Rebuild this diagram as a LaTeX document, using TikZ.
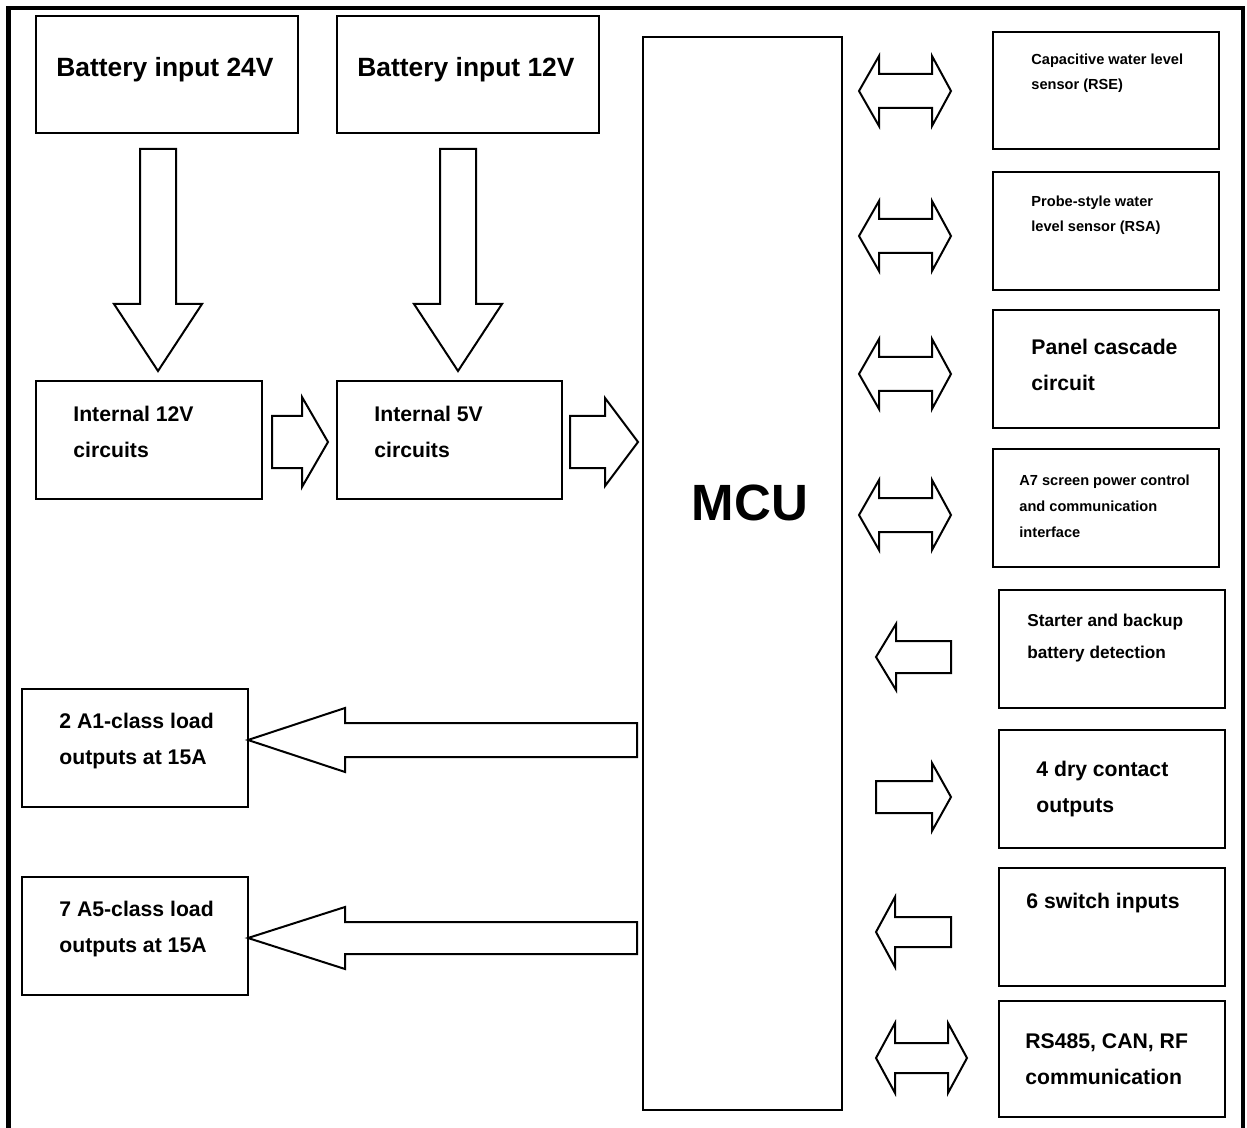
\documentclass[tikz,border=0pt]{standalone}
\usepackage{fontspec}
\setmainfont{Liberation Sans}

% block arrows: tail, tip, centre line, shaft half width, head half width, head base
\newcommand{\harrow}[6]{%
  \draw[barrow] (#1,#3-#4) -- (#6,#3-#4) -- (#6,#3-#5) -- (#2,#3) -- (#6,#3+#5) -- (#6,#3+#4) -- (#1,#3+#4) -- cycle;}
\newcommand{\varrow}[6]{%
  \draw[barrow] (#3-#4,#1) -- (#3-#4,#6) -- (#3-#5,#6) -- (#3,#2) -- (#3+#5,#6) -- (#3+#4,#6) -- (#3+#4,#1) -- cycle;}
\newcommand{\dblarrow}[7]{%
  \draw[barrow] (#1,#3) -- (#6,#3-#5) -- (#6,#3-#4) -- (#7,#3-#4) -- (#7,#3-#5) -- (#2,#3) -- (#7,#3+#5) -- (#7,#3+#4) -- (#6,#3+#4) -- (#6,#3+#5) -- cycle;}

\tikzset{
  blk/.style={draw, line width=1.3pt, inner sep=0pt, minimum width=113pt, minimum height=59pt},
  barrow/.style={draw, line width=1pt},
  txt/.style={anchor=base west, align=left, inner sep=0pt, font=\bfseries\fontsize{10.6}{18}\selectfont},
  txtbig/.style={txt, font=\bfseries\fontsize{13.2}{16}\selectfont},
  txtmid/.style={txt, font=\bfseries\fontsize{8.6}{16}\selectfont},
  txtsmall/.style={txt, font=\bfseries\fontsize{7.3}{12.8}\selectfont},
}

\begin{document}
\begin{tikzpicture}[x=0.5pt, y=-0.5pt]
  \useasboundingbox (0,0) rectangle (1247,1128);
  \draw[line width=2.2pt] (8.5,1128) -- (8.5,8) -- (1243,8) -- (1243,1128);

  % power side
  \node[blk, minimum width=131pt, minimum height=58.5pt] (bat24) at (167,74.5) {};
  \node[blk, minimum width=131pt, minimum height=58.5pt] (bat12) at (468,74.5) {};
  \node[blk] (int12) at (149,440) {};
  \node[blk, minimum width=112.5pt] (int5) at (449.5,440) {};
  \node[blk, minimum width=99.5pt, minimum height=536.5pt] (mcu) at (742.5,573.5) {};

  \node[txtbig] (bat24t) at (56,77) {Battery input 24V};
  \node[txtbig] (bat12t) at (357,77) {Battery input 12V};
  \node[txt] (int12t) at (73,458) {Internal 12V\\circuits};
  \node[txt] (int5t) at (374,458) {Internal 5V\\circuits};
  \node[font=\bfseries\fontsize{25.5}{30}\selectfont, inner sep=0pt] (mcut) at (750,503) {MCU};

  % peripherals
  \node[blk, minimum height=58.5pt] (rse) at (1106,90.5) {};
  \node[blk] (rsa) at (1106,231) {};
  \node[blk] (casc) at (1106,369) {};
  \node[blk] (a7) at (1106,508) {};
  \node[blk] (start) at (1112,649) {};
  \node[blk] (dry) at (1112,789) {};
  \node[blk] (sw) at (1112,927) {};
  \node[blk, minimum height=58pt] (comm) at (1112,1059) {};

  \node[txtsmall] (rset) at (1031,90) {Capacitive water level\\sensor (RSE)};
  \node[txtsmall] (rsat) at (1031,232) {Probe-style water\\level sensor (RSA)};
  \node[txt] (casct) at (1031,391) {Panel cascade\\circuit};
  \node[txtsmall] (a7t) at (1019,537) {A7 screen power control\\and communication\\interface};
  \node[txtmid] (startt) at (1027,658) {Starter and backup\\battery detection};
  \node[txt] (dryt) at (1036,812) {4 dry contact\\outputs};
  \node[txt] (swt) at (1026,908) {6 switch inputs};
  \node[txt] (commt) at (1025,1084) {RS485, CAN, RF\\communication};

  % loads
  \node[blk] (loada1) at (135,748) {};
  \node[blk] (loada5) at (135,936) {};
  \node[txt] (loada1t) at (59,764) {2 A1-class load\\outputs at 15A};
  \node[txt] (loada5t) at (59,952) {7 A5-class load\\outputs at 15A};

  % arrows
  \varrow{149}{371}{158}{18}{44}{304}
  \varrow{149}{371}{458}{18}{44}{304}
  \harrow{272}{328}{442}{26}{45}{302}
  \harrow{570}{638}{442}{26}{44}{605}
  \dblarrow{859}{951}{91}{17}{35}{879}{932}
  \dblarrow{859}{951}{236}{17}{35}{879}{932}
  \dblarrow{859}{951}{374}{17}{35}{879}{932}
  \dblarrow{859}{951}{515}{17}{35}{879}{932}
  \harrow{951}{876}{657}{16}{33}{896}
  \harrow{876}{951}{797}{16}{34}{932}
  \harrow{951}{876}{932}{15}{35}{895}
  \dblarrow{876}{967}{1058}{15}{35}{895}{948}
  \harrow{637}{248}{740}{17}{32}{345}
  \harrow{637}{248}{938}{16}{31}{345}
\end{tikzpicture}
\end{document}
